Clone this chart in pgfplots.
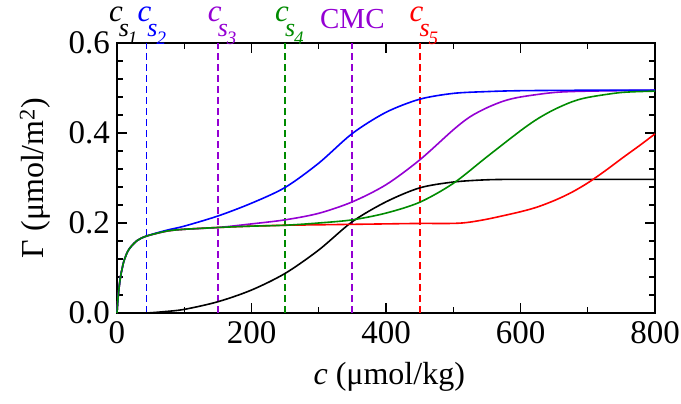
\documentclass[border=0pt]{standalone}
\usepackage{fontspec}
\setmainfont{Liberation Serif}
\usepackage{pgfplots}
\pgfplotsset{compat=1.18}
\usetikzlibrary{calc}
\definecolor{gviolet}{RGB}{148,0,211}
\definecolor{ggreen}{RGB}{0,139,0}

% label "c" with two-level subscript, centred on the c
\newcommand{\cs}[1]{\textit{c}\rlap{\kern-4bp\raisebox{-15bp}{\fontsize{26bp}{28bp}\selectfont\textit{s}\kern-1bp\raisebox{-8bp}{\fontsize{19bp}{21bp}\selectfont\textit{#1}}}}}

\begin{document}
\begin{tikzpicture}
\begin{axis}[
  name=ax,
  width=538bp, height=270bp, scale only axis,
  xmin=0, xmax=800, ymin=0, ymax=0.6,
  xtick={0,200,...,800}, minor x tick num=1,
  ytick={0,0.2,0.4,0.6}, minor y tick num=4,
  tick align=inside, major tick length=10bp, minor tick length=6bp,
  axis line style={line width=1.3bp}, every tick/.style={line width=1.1bp, black},
  tick label style={font=\fontsize{33bp}{40bp}\selectfont},
  xticklabel style={inner sep=0bp, yshift=-8bp},
  yticklabel style={inner sep=0bp, xshift=-7bp, /pgf/number format/.cd, fixed, fixed zerofill, precision=1},
  /pgf/number format/assume math mode=true,
  xlabel={\textit{c} (μmol/kg)},
  ylabel={Γ (μmol/m\textsuperscript{2})},
  every axis x label/.style={at={(axis description cs:0.506,-0.235)}, anchor=center, font=\fontsize{32bp}{38bp}\selectfont},
  every axis y label/.style={at={(axis description cs:-0.152,0.5)}, anchor=center, rotate=90, font=\fontsize{32bp}{38bp}\selectfont},
  clip=false,
  every axis plot/.append style={line width=1.6bp},
]
% markers of the concentrations
\addplot[blue, dash pattern=on 7bp off 4bp, line width=1.8bp] coordinates {(44,0) (44,0.6)};
\addplot[gviolet, dash pattern=on 7bp off 4bp, line width=1.8bp] coordinates {(150,0) (150,0.6)};
\addplot[ggreen, dash pattern=on 7bp off 4bp, line width=1.8bp] coordinates {(250,0) (250,0.6)};
\addplot[gviolet, dash pattern=on 7bp off 4bp, line width=1.8bp] coordinates {(350,0) (350,0.6)};
\addplot[red, dash pattern=on 7bp off 4bp, line width=1.8bp] coordinates {(450,0) (450,0.6)};

% black
\addplot[black, smooth] coordinates {(0,0) (25,0) (44,0) (70,0.003) (100,0.008) (150,0.025) (200,0.051) (250,0.088) (300,0.140) (350,0.203) (400,0.247) (450,0.278) (500,0.291) (550,0.296) (600,0.297) (700,0.297) (800,0.297)};
% red
\addplot[red, smooth] coordinates {(0,0) (1,0.0227) (2,0.0408) (4,0.0678) (6,0.087) (8,0.101) (10,0.114) (15,0.134) (20,0.146) (30,0.161) (44,0.171) (74,0.182) (100,0.186) (150,0.190) (200,0.193) (250,0.195) (300,0.196) (350,0.197) (400,0.198) (450,0.199) (496,0.199) (520,0.201) (552,0.209) (600,0.225) (626,0.236) (652,0.251) (676,0.268) (700,0.289) (726,0.316) (752,0.345) (776,0.371) (800,0.398)};
% violet
\addplot[gviolet, smooth] coordinates {(0,0) (1,0.0227) (2,0.0408) (4,0.0678) (6,0.087) (8,0.101) (10,0.114) (15,0.134) (20,0.146) (30,0.161) (44,0.171) (74,0.182) (100,0.186) (150,0.190) (200,0.198) (250,0.207) (300,0.2215) (350,0.247) (400,0.285) (450,0.340) (500,0.407) (525,0.436) (550,0.456) (575,0.471) (600,0.480) (650,0.490) (700,0.493) (800,0.495)};
% blue
\addplot[blue, smooth] coordinates {(0,0) (1,0.0227) (2,0.0408) (4,0.0678) (6,0.087) (8,0.101) (10,0.114) (15,0.134) (20,0.146) (30,0.161) (44,0.171) (74,0.184) (100,0.193) (150,0.2155) (200,0.244) (250,0.279) (300,0.333) (350,0.399) (400,0.446) (450,0.475) (500,0.488) (550,0.492) (600,0.494) (700,0.495) (800,0.495)};
% green
\addplot[ggreen, smooth] coordinates {(0,0) (1,0.0227) (2,0.0408) (4,0.0678) (6,0.087) (8,0.101) (10,0.114) (15,0.134) (20,0.146) (30,0.161) (44,0.171) (74,0.182) (100,0.186) (150,0.190) (200,0.193) (250,0.195) (300,0.200) (350,0.207) (400,0.222) (450,0.246) (500,0.288) (550,0.347) (600,0.405) (626,0.432) (650,0.452) (676,0.469) (700,0.479) (750,0.490) (800,0.493)};

% labels above the frame
\begin{scope}[every node/.style={anchor=base, yshift=21bp, inner sep=0pt, font=\fontsize{31bp}{34bp}\selectfont}]
\node[black, xshift=-1bp] at (axis cs:0,0.6) {\cs{1}};
\node[blue, xshift=-2bp] at (axis cs:44,0.6) {\cs{2}};
\node[gviolet, xshift=-3bp] at (axis cs:150,0.6) {\cs{3}};
\node[ggreen, xshift=-3bp] at (axis cs:250,0.6) {\cs{4}};
\node[gviolet, yshift=-7bp, font=\fontsize{29bp}{32bp}\selectfont] at (axis cs:350,0.6) {CMC};
\node[red, xshift=-3bp] at (axis cs:450,0.6) {\cs{5}};
\end{scope}
\end{axis}
\pgfresetboundingbox
\path[use as bounding box] ($(ax.south west)+(-117bp,-91bp)$) rectangle ($(ax.north east)+(26bp,43bp)$);
\end{tikzpicture}
\end{document}
